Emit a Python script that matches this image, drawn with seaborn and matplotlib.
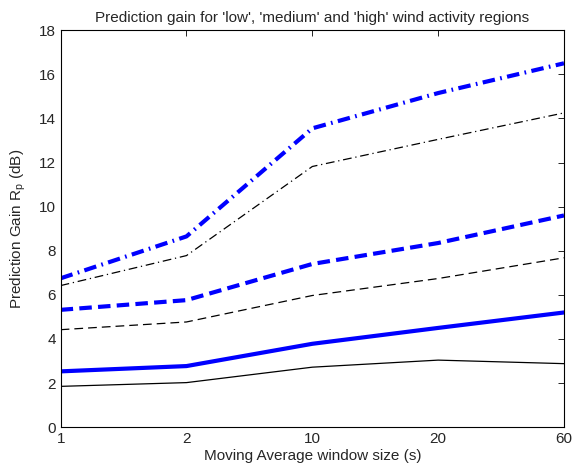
import matplotlib
matplotlib.use("Agg")
import matplotlib.pyplot as plt
import pandas as pd
import seaborn as sns

window_sizes = ["1", "2", "10", "20", "60"]

high_blue = [6.75, 8.65, 13.55, 15.15, 16.5]
high_black = [6.42, 7.78, 11.82, 13.05, 14.25]
medium_blue = [5.32, 5.76, 7.4, 8.35, 9.6]
medium_black = [4.42, 4.77, 5.97, 6.74, 7.68]
low_blue = [2.53, 2.77, 3.78, 4.5, 5.2]
low_black = [1.85, 2.02, 2.72, 3.04, 2.88]

sns.set_theme(style="white")
plt.rcParams["font.family"] = ["Liberation Sans", "DejaVu Sans"]

fig, ax = plt.subplots(figsize=(5.72, 4.72), dpi=100)
pos = list(range(len(window_sizes)))

series = [
    (low_black, "black", "-", 0.9),
    (medium_black, "black", (0, (7, 4)), 0.9),
    (high_black, "black", (0, (7, 3, 1, 3)), 0.9),
    (low_blue, "blue", "-", 3.0),
    (medium_blue, "blue", (0, (3, 1.5)), 3.0),
    (high_blue, "blue", (0, (3, 1.3, 0.4, 1.3)), 3.0),
]
for vals, color, ls, lw in series:
    df = pd.DataFrame({"x": pos, "y": vals})
    sns.lineplot(data=df, x="x", y="y", color=color, linestyle=ls,
                 linewidth=lw, ax=ax)

ax.set_xlim(0, len(window_sizes) - 1)
ax.set_ylim(0, 18)
ax.set_xticks(pos)
ax.set_xticklabels(window_sizes)
ax.set_yticks(range(0, 19, 2))
ax.tick_params(direction="in", top=True, right=True, length=4, labelsize=11,
               color="black", width=0.6)
for s in ax.spines.values():
    s.set_color("black")
    s.set_linewidth(0.8)

ax.set_xlabel("Moving Average window size (s)", fontsize=11, labelpad=2)
ax.set_ylabel("Prediction Gain R$_\\mathregular{p}$ (dB)", fontsize=11, labelpad=8)
ax.set_title("Prediction gain for 'low', 'medium' and 'high' wind activity regions",
             fontsize=11, pad=6)

fig.subplots_adjust(left=0.106, right=0.986, top=0.936, bottom=0.095)
fig.savefig("out.png", dpi=100)
